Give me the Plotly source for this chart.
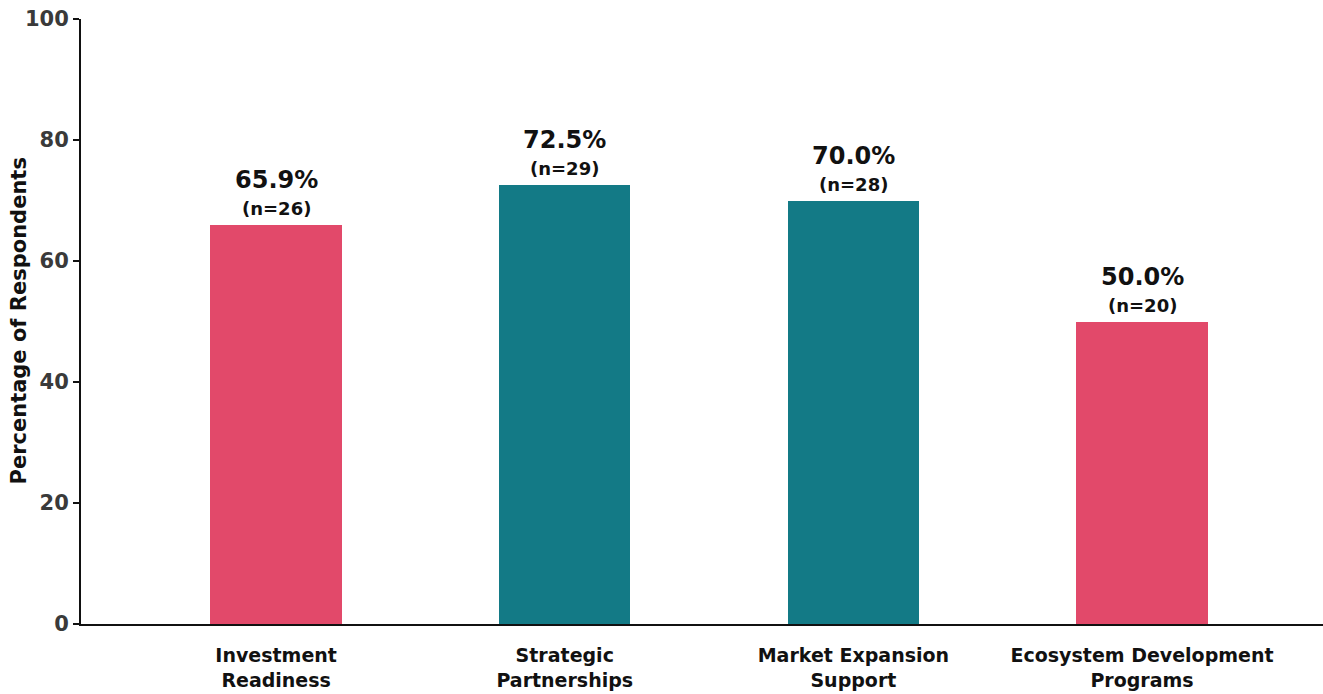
import plotly.graph_objects as go

categories = ["Investment<br>Readiness", "Strategic<br>Partnerships",
              "Market Expansion<br>Support", "Ecosystem Development<br>Programs"]
percentages = [65.9, 72.5, 70.0, 50.0]
counts = [26, 29, 28, 20]
bar_colors = ["#E2496A", "#137A86", "#137A86", "#E2496A"]
y_ticks = [0, 20, 40, 60, 80, 100]
y_title = "Percentage of Respondents"

FONT = "DejaVu Sans, Montserrat, sans-serif"

fig = go.Figure(go.Bar(
    x=list(range(len(categories))),
    y=percentages,
    marker=dict(color=bar_colors, line=dict(width=0)),
    width=0.455,
    hoverinfo="skip",
))

annotations = []
for i, (p, n) in enumerate(zip(percentages, counts)):
    annotations.append(dict(
        x=i, y=p, xref="x", yref="y", text=f"<b>{p:.1f}%</b>",
        showarrow=False, yanchor="bottom", yshift=29,
        font=dict(family=FONT, size=24, color="#111111")))
    annotations.append(dict(
        x=i, y=p, xref="x", yref="y", text=f"<b>(n={n})</b>",
        showarrow=False, yanchor="bottom", yshift=4,
        font=dict(family=FONT, size=18, color="#111111")))

# vertical axis title placed beside the tick labels
annotations.append(dict(
    x=0, y=0.5, xref="paper", yref="paper", xshift=-63,
    text=f"<b>{y_title}</b>", textangle=-90, showarrow=False,
    xanchor="center", yanchor="middle",
    font=dict(family=FONT, size=21, color="#111111")))

fig.update_layout(
    width=1323, height=694,
    margin=dict(l=81, r=0, t=19, b=70, autoexpand=False),
    paper_bgcolor="white", plot_bgcolor="white",
    showlegend=False,
    bargap=0,
    annotations=annotations,
    font=dict(family=FONT),
    xaxis=dict(
        range=[-0.676, 3.627],
        automargin=False,
        tickmode="array",
        tickvals=list(range(len(categories))),
        ticktext=[f"<b>{c}</b>" for c in categories],
        tickfont=dict(family=FONT, size=19, color="#111111"),
        showline=True, linecolor="#111111", linewidth=2,
        ticks="", showgrid=False, zeroline=False,
        ticklabelstandoff=13,
    ),
    yaxis=dict(
        range=[0, 100],
        automargin=False,
        tickmode="array",
        tickvals=y_ticks,
        ticktext=[f"<b>{t}</b>" for t in y_ticks],
        tickfont=dict(family=FONT, size=21, color="#3A3A3A"),
        showline=True, linecolor="#111111", linewidth=2,
        ticks="outside", ticklen=6, tickwidth=2, tickcolor="#111111",
        showgrid=False, zeroline=False,
    ),
)

fig.write_html("out.html")
